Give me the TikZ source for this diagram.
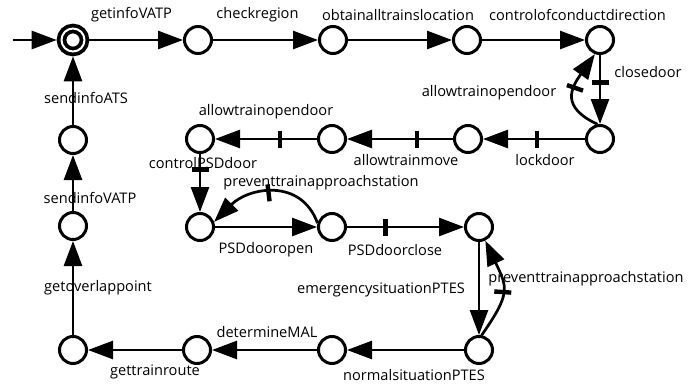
\documentclass[tikz,border=0pt]{standalone}
\usepackage{fontspec}
\setmainfont{Open Sans}
\usetikzlibrary{arrows.meta,decorations.markings}

\tikzset{
  state/.style={circle, draw, line width=3pt, minimum size=27pt, inner sep=0pt, fill=white},
  initstate/.style={circle, draw, line width=3.8pt, double, double distance=2pt,
    minimum size=23pt, inner sep=0pt, outer sep=4.8pt},
  arr/.style={-{Triangle[length=25pt,width=18pt]}, line width=2.7pt},
  lbl/.style={font=\fontsize{14.6pt}{16pt}\selectfont, inner sep=0pt, text=black},
  tickat/.style={postaction={decorate, decoration={markings,
    mark=at position #1 with {\draw[-, line width=4.4pt] (0,-8.5pt) -- (0,8.5pt);}}}}
}

\begin{document}
\begin{tikzpicture}[x=1pt,y=1pt]
  \useasboundingbox (0,0) rectangle (689,-388);

  % states
  \coordinate (st) at (13,-40);
  \node[initstate] (s0) at (73,-40) {};
  \node[state] (s1) at (198,-40) {};
  \node[state] (s2) at (333,-40) {};
  \node[state] (s3) at (467,-40) {};
  \node[state] (s4) at (600,-40) {};
  \node[state] (s5) at (600,-139) {};
  \node[state] (s6) at (468,-139) {};
  \node[state] (s7) at (332,-139) {};
  \node[state] (s8) at (200,-139) {};
  \node[state] (s9) at (200,-227) {};
  \node[state] (s10) at (332,-227) {};
  \node[state] (s11) at (479,-227) {};
  \node[state] (s12) at (479,-350) {};
  \node[state] (s13) at (332,-350) {};
  \node[state] (s14) at (197,-350) {};
  \node[state] (s15) at (73,-350) {};
  \node[state] (s16) at (73,-226) {};
  \node[state] (s17) at (73,-140) {};

  % transitions
  \draw[arr] (st) -- (s0);
  \draw[arr] (s0) -- (s1);
  \draw[arr] (s1) -- (s2);
  \draw[arr] (s2) -- (s3);
  \draw[arr] (s3) -- (s4);
  \draw[arr, tickat=0.4] (s4) -- (s5);
  \draw[arr, tickat=0.55] (s5.100) to[out=155,in=235,looseness=1.5] (s4.250);
  \draw[arr, tickat=0.47] (s5) -- (s6);
  \draw[arr, tickat=0.34] (s6) -- (s7);
  \draw[arr, tickat=0.36] (s7) -- (s8);
  \draw[arr, tickat=0.27] (s8) -- (s9);
  \draw[arr] (s9) -- (s10);
  \draw[arr, tickat=0.5] (s10.165) to[out=110,in=45,looseness=1.2] (s9.20);
  \draw[arr, tickat=0.47] (s12.80) to[out=55,in=-65,looseness=1.4] (s11.-65);
  \draw[arr, tickat=0.33] (s10) -- (s11);
  \draw[arr] (s11) -- (s12);
  \draw[arr] (s12) -- (s13);
  \draw[arr] (s13) -- (s14);
  \draw[arr] (s14) -- (s15);
  \draw[arr] (s15) -- (s16);
  \draw[arr] (s16) -- (s17);
  \draw[arr] (s17) -- (s0);

  % labels
  \node[lbl] (t1) at (131.5,-15) {getinfoVATP};
  \node[lbl] (t2) at (257.5,-15) {checkregion};
  \node[lbl] (t3) at (398,-15) {obtainalltrainslocation};
  \node[lbl] (t4) at (577.5,-15) {controlofconductdirection};
  \node[lbl] (t5) at (648,-72) {closedoor};
  \node[lbl] (t6) at (489,-93) {allowtrainopendoor};
  \node[lbl] (t7) at (545,-160) {lockdoor};
  \node[lbl] (t8) at (406,-160) {allowtrainmove};
  \node[lbl] (t9) at (266,-112) {allowtrainopendoor};
  \node[lbl] (t10) at (203,-163) {controlPSDdoor};
  \node[lbl] (t11) at (321,-183) {preventtrainapproachstation};
  \node[lbl] (t12) at (266,-250) {PSDdooropen};
  \node[lbl] (t13) at (395,-250) {PSDdoorclose};
  \node[lbl] (t14) at (381,-290) {emergencysituationPTES};
  \node[lbl] (t15) at (586,-279) {preventtrainapproachstation};
  \node[lbl] (t16) at (414,-375) {normalsituationPTES};
  \node[lbl] (t17) at (267,-332) {determineMAL};
  \node[lbl] (t18) at (155,-372) {gettrainroute};
  \node[lbl] (t19) at (98,-288) {getoverlappoint};
  \node[lbl] (t20) at (90,-198) {sendinfoVATP};
  \node[lbl] (t21) at (86,-98) {sendinfoATS};
\end{tikzpicture}
\end{document}
